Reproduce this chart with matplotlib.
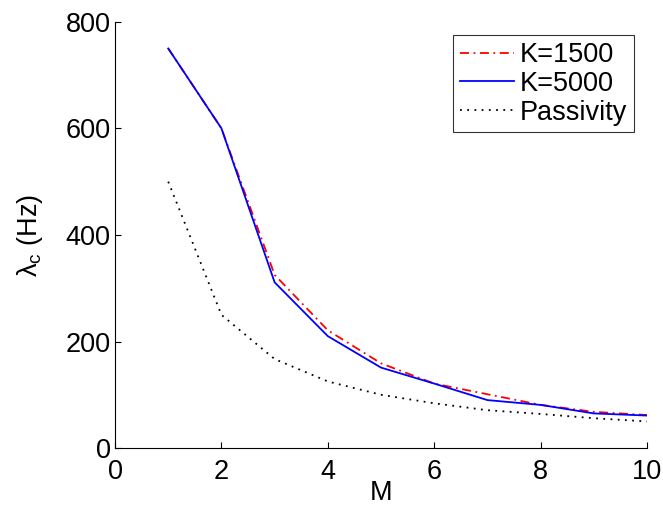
import numpy as np
import matplotlib
matplotlib.use("Agg")
import matplotlib.pyplot as plt

plt.rcParams['font.family'] = ['Liberation Sans', 'DejaVu Sans']
plt.rcParams['mathtext.fontset'] = 'custom'
plt.rcParams['mathtext.rm'] = 'Liberation Sans'
plt.rcParams['mathtext.it'] = 'Liberation Sans:italic'

M = [1, 2, 3, 4, 5, 6, 7, 8, 9, 10]
k1500 = [750, 600, 325, 221, 159, 121, 101, 81, 68, 62]
k5000 = [750, 600, 311, 210, 151, 121, 90, 81, 65, 61]
passivity = [500, 250, 167, 125, 100, 84, 71, 64, 56, 50]

fs = 19.5
fig = plt.figure(figsize=(6.63, 5.08), dpi=100)
ax = fig.add_axes([0.1735, 0.118, 0.8025, 0.839])

ax.plot(M, k1500, color='red', ls=(0, (5, 2.5, 1, 2.5)), lw=1.3, label='K=1500')
ax.plot(M, k5000, color='blue', ls='-', lw=1.3, label='K=5000')
ax.plot(M, passivity, color='black', ls=(0, (1, 3)), lw=1.3, label='Passivity')

ax.set_xlim(0, 10)
ax.set_ylim(0, 800)
ax.set_xticks(np.arange(0, 11, 2))
ax.set_yticks(np.arange(0, 801, 200))
ax.tick_params(direction='in', length=4, labelsize=fs, width=0.8)
ax.tick_params(axis='x', pad=8)
ax.tick_params(axis='y', pad=3)
ax.spines['top'].set_visible(False)
ax.spines['right'].set_visible(False)

ax.set_xlabel('M', fontsize=fs, labelpad=-4)
ax.set_ylabel(r'$\mathrm{\lambda}_\mathrm{c}$ (Hz)', fontsize=fs, labelpad=15)

leg = ax.legend(loc='upper right', fontsize=fs, frameon=True, fancybox=False,
                edgecolor='black', handlelength=2.0, handletextpad=0.2,
                borderpad=0.25, labelspacing=0.1, borderaxespad=0.5)
leg.get_frame().set_linewidth(0.8)

fig.savefig('out.png', dpi=100)
